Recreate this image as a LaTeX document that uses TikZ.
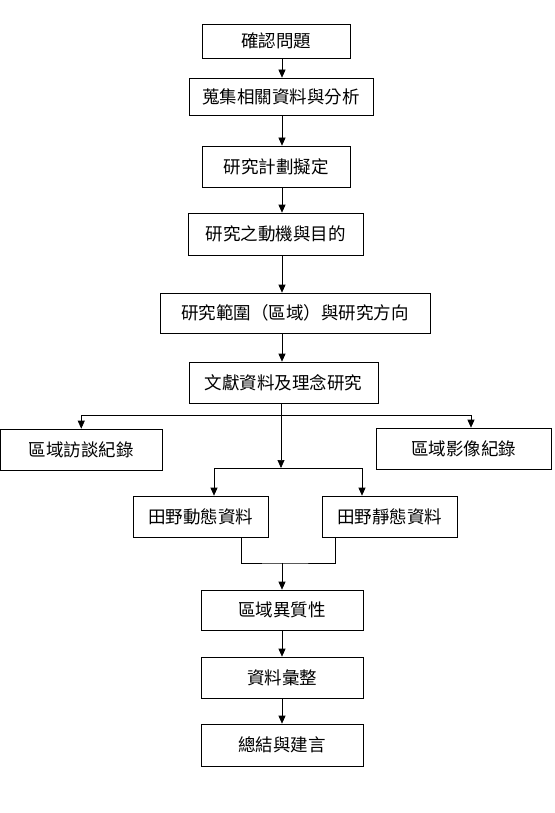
\documentclass[tikz,border=0pt]{standalone}
\usepackage{fontspec}
\newfontfamily\cjk{Noto Sans CJK TC}
\usetikzlibrary{arrows.meta}
\begin{document}
\begin{tikzpicture}[x=1pt,y=-1pt,
  box/.style={draw=black,line width=0.7pt,inner sep=0pt,align=center,
    font=\cjk\fontsize{17.5}{17.5}\selectfont},
  arr/.style={line width=0.7pt,-{Triangle[width=7pt,length=8pt]}},
  ln/.style={line width=0.7pt}]
\useasboundingbox[fill=white] (0,0) rectangle (554,813);
\node[box,minimum width=148pt,minimum height=34pt] (b1) at (276,41) {確認問題};
\node[box,minimum width=184pt,minimum height=37pt] (b2) at (281,96.5) {蒐集相關資料與分析};
\node[box,minimum width=148pt,minimum height=41pt] (b3) at (276,166.5) {研究計劃擬定};
\node[box,minimum width=175pt,minimum height=42pt] (b4) at (275.5,234) {研究之動機與目的};
\node[box,minimum width=270pt,minimum height=40pt] (b5) at (295,313) {研究範圍（區域）與研究方向};
\node[box,minimum width=189pt,minimum height=41pt] (b6) at (283.5,382.5) {文獻資料及理念研究};
\node[box,minimum width=161.5pt,minimum height=41pt] (b7) at (81.25,449.5) {區域訪談紀錄};
\node[box,minimum width=175pt,minimum height=41pt] (b8) at (463.5,448.5) {區域影像紀錄};
\node[box,minimum width=135pt,minimum height=41pt] (b9) at (200.5,516.5) {田野動態資料};
\node[box,minimum width=135pt,minimum height=41pt] (b10) at (389.5,516.5) {田野靜態資料};
\node[box,minimum width=162pt,minimum height=40pt] (b11) at (282,610) {區域異質性};
\node[box,minimum width=162pt,minimum height=41pt] (b12) at (282,677.5) {資料彙整};
\node[box,minimum width=162pt,minimum height=42pt] (b13) at (282,745) {總結與建言};
\coordinate (spine) at (282,0);
\coordinate (br1) at (281,415);
\coordinate (br2) at (281,468);
\coordinate (m1) at (282,563);
\draw[arr] (b1.south -| spine) -- (b2.north -| spine);
\draw[arr] (b2.south -| spine) -- (b3.north -| spine);
\draw[arr] (b3.south -| spine) -- (b4.north -| spine);
\draw[arr] (b4.south -| spine) -- (b5.north -| spine);
\draw[arr] (b5.south -| spine) -- (b6.north -| spine);
\draw[ln] (b6.south -| br1) -- (br1);
\draw[arr] (br1) -| (b7);
\draw[arr] (br1) -| ([xshift=7.5pt]b8.north);
\draw[arr] (br1) -- (br2);
\draw[arr] (br2) -| ([xshift=13.5pt]b9.north);
\draw[arr] (br2) -| ([xshift=-27.5pt]b10.north);
\draw[ln] ([xshift=40.5pt]b9.south) |- (m1) -| ([xshift=-54.5pt]b10.south);
\draw[arr] (m1) -- (b11.north -| m1);
\draw[arr] (b11.south -| spine) -- (b12.north -| spine);
\draw[arr] (b12.south -| spine) -- (b13.north -| spine);
\end{tikzpicture}
\end{document}
